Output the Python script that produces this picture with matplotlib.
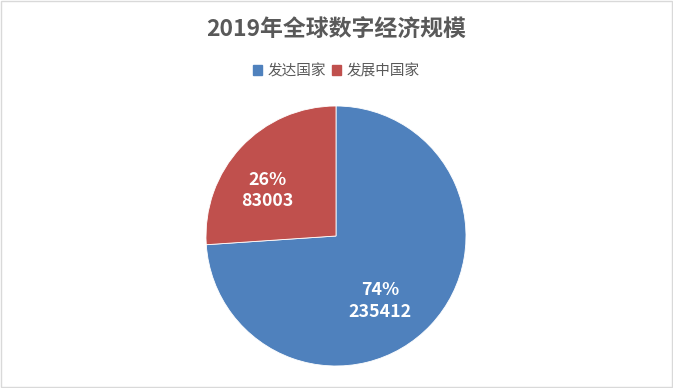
import matplotlib
matplotlib.use("Agg")
import matplotlib.pyplot as plt
import numpy as np

labels = ["发达国家", "发展中国家"]
values = [235412, 83003]
colors = ["#4F81BD", "#C0504D"]
title = "2019年全球数字经济规模"

plt.rcParams['font.family'] = ['Noto Sans CJK SC', 'DejaVu Sans']

fig = plt.figure(figsize=(6.73, 3.88), dpi=100)
fig.patch.set_facecolor("white")

# pie axes: centre (336, 236) px, radius 130 px
W, H = 673, 388
cx, cy, r = 336, H - 236, 130
ax = fig.add_axes([(cx - r) / W, (cy - r) / H, 2 * r / W, 2 * r / H])

total = sum(values)


def fmt(pct):
    v = int(round(pct * total / 100.0))
    return "{:.0f}%\n{}".format(pct, v)


wedges, texts, autotexts = ax.pie(values, colors=colors, startangle=90, counterclock=False,
                                  autopct=fmt, pctdistance=0.62, radius=1,
                                  wedgeprops=dict(edgecolor="white", linewidth=0.6),
                                  textprops=dict(color="white", fontsize=12.8, fontweight="bold",
                                                 linespacing=1.25))
# nudge labels a bit toward where the original puts them
autotexts[0].set_position((0.34, -0.50))
autotexts[1].set_position((-0.53, 0.35))
ax.set_xlim(-1, 1)
ax.set_ylim(-1, 1)
ax.set_aspect("equal")

fig.text(0.5, 0.922, title, ha="center", va="center", fontsize=16.5, fontweight="bold", color="#595959")

handles = [plt.Rectangle((0, 0), 1, 1, color=c) for c in colors]
fig.legend(handles, labels, loc="center", bbox_to_anchor=(0.5, 0.817), ncol=2, frameon=False,
           fontsize=10.5, handlelength=0.6, handleheight=0.6, handletextpad=0.4, columnspacing=0.4,
           labelcolor="#595959")

# light grey chart border
fig.add_artist(plt.Rectangle((0.0015, 0.0025), 0.997, 0.995, transform=fig.transFigure,
                             fill=False, edgecolor="#D9D9D9", linewidth=1))

fig.savefig("out.png", dpi=100)
